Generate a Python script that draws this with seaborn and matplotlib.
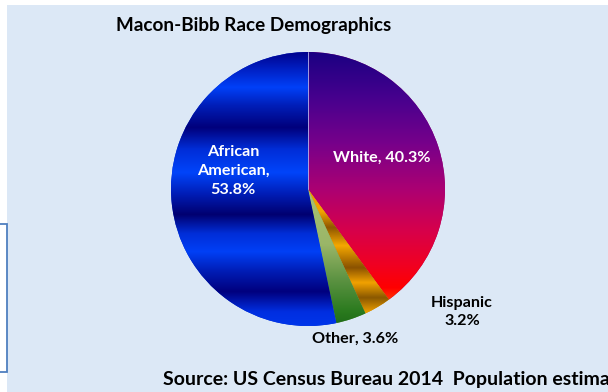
import numpy as np
import matplotlib
matplotlib.use("Agg")
import matplotlib.pyplot as plt
from matplotlib.colors import to_rgb
from matplotlib.patches import Rectangle
import seaborn as sns

# Macon-Bibb population shares by race (percent)
categories = ["White", "Hispanic", "Other", "African American"]
shares = [40.3, 3.2, 3.6, 53.8]
slice_labels = ["White, 40.3%", "Hispanic\n3.2%", "Other, 3.6%", "African\nAmerican,\n53.8%"]
title = "Macon-Bibb Race Demographics"
source = "Source: US Census Bureau 2014  Population estimates"

sns.set_theme(style="white")
plt.rcParams["font.family"] = ["Lato", "DejaVu Sans"]

W, H = 608, 392
fig = plt.figure(figsize=(W / 100, H / 100), dpi=100)
fig.patch.set_facecolor("white")

# pixel-space backdrop layer
bg = fig.add_axes([0, 0, 1, 1])
bg.set_xlim(0, W)
bg.set_ylim(H, 0)
bg.axis("off")
bg.add_patch(Rectangle((7, 5), W - 7, H - 5, facecolor="#dce8f6", edgecolor="none"))
bg.plot([0, 7, 7, 0], [224, 224, 372, 372], color="#4f7fbf", lw=1.3, solid_joinstyle="miter")

# pie axes: centre (308, 189) px, radius 137 px
cx, cy, r = 308, 189, 137
ax = fig.add_axes([(cx - r) / W, (H - cy - r) / H, 2 * r / W, 2 * r / H])
wedges, _ = ax.pie(shares, startangle=90, counterclock=False, radius=1,
                   colors=["#a0006a", "#d08a00", "#5a9040", "#0030d0"],
                   wedgeprops=dict(linewidth=0))


def vertical_gradient(stops, top=cy - r, bottom=cy + r, n=400):
    """Row-wise colour ramp between pixel-row colour stops."""
    rows = np.linspace(top, bottom, n)
    pos = np.array([s[0] for s in stops], dtype=float)
    cols = np.array([to_rgb(s[1]) for s in stops])
    img = np.stack([np.interp(rows, pos, cols[:, k]) for k in range(3)], axis=-1)
    return np.repeat(img[:, None, :], 4, axis=1)


fills = {
    "White": [(52, "#1a0082"), (100, "#48008e"), (145, "#78008a"), (190, "#ac0072"),
              (230, "#d6004c"), (265, "#f00022"), (288, "#ff0000"), (305, "#ff4a00")],
    "Hispanic": [(189, "#e89a00"), (212, "#f2a400"), (228, "#8e5600"), (246, "#f5a800"),
                 (268, "#8a5200"), (283, "#f2a200"), (298, "#8a5800"), (312, "#e89c00")],
    "Other": [(189, "#a8c274"), (245, "#9ab668"), (280, "#5c9242"), (312, "#2a7a1e"),
              (326, "#1f6a18")],
    "African American": [(52, "#00008a"), (70, "#0020c4"), (88, "#0040f8"), (106, "#001eb8"),
                         (128, "#00007c"), (150, "#002ed8"), (173, "#0044fa"), (195, "#001cb4"),
                         (215, "#000070"), (234, "#002ed8"), (252, "#0040f6"), (272, "#001cb4"),
                         (292, "#00007e"), (312, "#002ee0"), (326, "#0036ea")],
}

# fill each wedge with its banded gradient, clipped to the wedge outline
for name, wedge in zip(categories, wedges):
    im = ax.imshow(vertical_gradient(fills[name]), extent=(-1, 1, -1, 1),
                   aspect="auto", origin="upper", zorder=2, interpolation="bilinear")
    im.set_clip_path(wedge)

# faint seam along the 12 o'clock boundary
ax.plot([0, 0], [0, 1], color="#b8b8f0", lw=0.6, zorder=3)

ax.set_xlim(-1, 1)
ax.set_ylim(-1, 1)
ax.axis("off")


def px(x, y):
    return (x - cx) / r, (cy - y) / r


label_style = dict(fontsize=11.6, fontweight="bold", ha="center", va="center",
                   linespacing=1.45, zorder=5)
label_pos = {"White": (382, 158), "Hispanic": (462, 312),
             "Other": (355, 339), "African American": (233, 171)}
label_color = {"White": "white", "Hispanic": "black",
               "Other": "black", "African American": "white"}
for name, text in zip(categories, slice_labels):
    ax.text(*px(*label_pos[name]), text, color=label_color[name], **label_style)

bg.text(254, 25, title, fontsize=13.6, fontweight="bold", ha="center", va="center", color="black")
bg.text(163, 380, source, fontsize=14, fontweight="bold", ha="left", va="center",
        color="black", clip_on=False)

fig.savefig("out.png", dpi=100)
